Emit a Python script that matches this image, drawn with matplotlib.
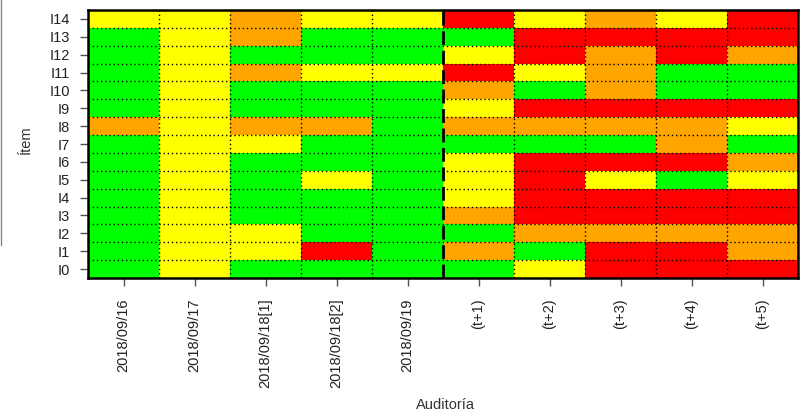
import numpy as np
import matplotlib.pyplot as plt
from matplotlib.colors import ListedColormap
from matplotlib.lines import Line2D

plt.rcParams['font.family'] = ['Liberation Sans', 'DejaVu Sans']

audits = ['2018/09/16', '2018/09/17', '2018/09/18[1]', '2018/09/18[2]', '2018/09/19',
          '(t+1)', '(t+2)', '(t+3)', '(t+4)', '(t+5)']
items = ['I%d' % i for i in range(15)]

# status per audit, items I0..I14  (G=green, Y=yellow, O=orange, R=red)
a_0916 = 'GGGGGGGGOGGGGGY'
a_0917 = 'YYYYYYYYYYYYYYY'
a_0918_1 = 'GYYGGGGYOGGOGOO'
a_0918_2 = 'GRGGGYGGOGGYGGY'
a_0919 = 'GGGGGGGGGGGYGGY'
t1 = 'GOGOYYYGOYORYGR'
t2 = 'YGORRRRGORGYRRY'
t3 = 'RRORRYRGOROOORO'
t4 = 'RRORRGROORGGRRY'
t5 = 'ROORRYOGYRGGORR'

columns = [a_0916, a_0917, a_0918_1, a_0918_2, a_0919, t1, t2, t3, t4, t5]
levels = {'G': 0, 'Y': 1, 'O': 2, 'R': 3}
cmap = ListedColormap(['#00FF00', '#FFFF00', '#FFA500', '#FF0000'])

grid = np.array([[levels[c] for c in col] for col in columns]).T  # rows=items

fig = plt.figure(figsize=(8.02, 4.15), dpi=100)
ax = fig.add_axes([88 / 802, 1 - 278 / 415, 710 / 802, 268 / 415])

ax.pcolormesh(np.arange(len(audits) + 1) - 0.5, np.arange(len(items) + 1) - 0.5,
              grid, cmap=cmap, vmin=-0.5, vmax=3.5)

# dotted cell borders
for y in np.arange(len(items) - 1) + 0.5:
    ax.axhline(y, color='black', lw=1, ls=(0, (1, 2)))
for x in np.arange(len(audits) - 1) + 0.5:
    if x == 4.5:
        ax.axvline(x, color='black', lw=2, ls=(0, (5, 2)))
    else:
        ax.axvline(x, color='black', lw=1, ls=(0, (1, 2)))

ax.set_xlim(-0.5, len(audits) - 0.5)
ax.set_ylim(-0.5, len(items) - 0.5)
ax.set_xticks(range(len(audits)))
ax.set_xticklabels(audits, rotation=90)
ax.set_yticks(range(len(items)))
ax.set_yticklabels(items)
ax.tick_params(direction='out', length=6, width=1, color='#555555',
               labelsize=10.5, labelcolor='#222222')
ax.tick_params(axis='x', pad=9)
ax.tick_params(axis='y', pad=7)
for s in ax.spines.values():
    s.set_linewidth(1.8)
    s.set_color('black')

fig.text(445 / 802, 1 - 405 / 415, 'Auditoría', ha='center', va='center',
         fontsize=10.5, color='#333333')
fig.text(26 / 802, 1 - 140 / 415, 'Ítem', ha='center', va='center',
         rotation=90, fontsize=10.5, color='#333333')

# thin grey border line at the far left
fig.add_artist(Line2D([1 / 802, 1 / 802], [1, 1 - 245 / 415], color='#888888', lw=1))

fig.savefig('out.png', dpi=100)
